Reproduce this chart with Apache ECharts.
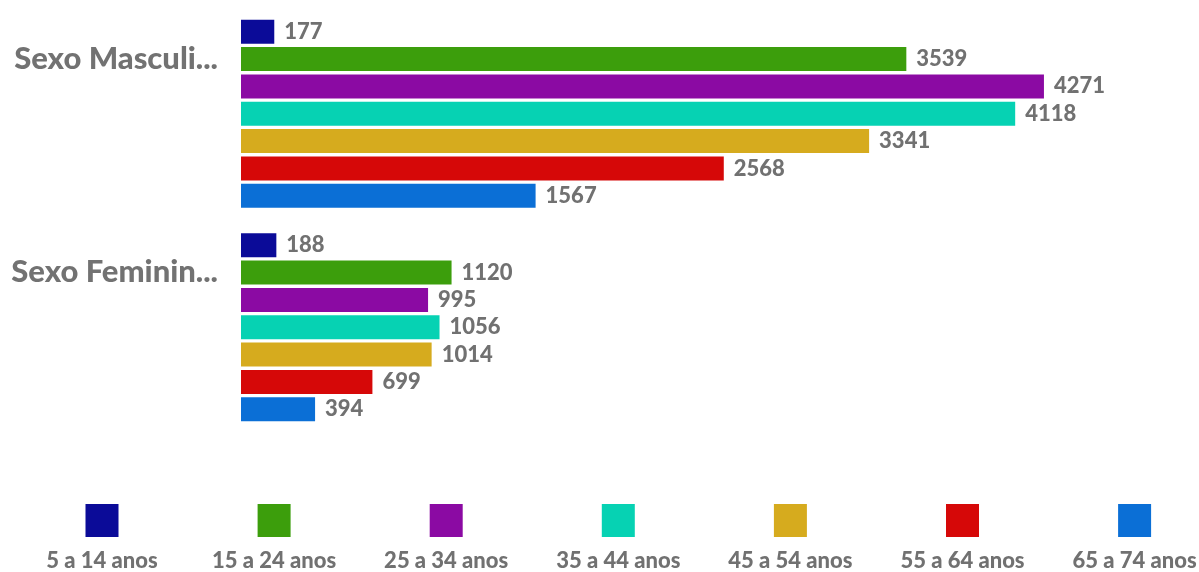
<!DOCTYPE html>
<html>
<head>
<meta charset="utf-8">
<script src="https://cdn.jsdelivr.net/npm/echarts@6/dist/echarts.min.js"></script>
<style>
  html, body { margin: 0; padding: 0; background: #ffffff; }
  #chart { width: 1199px; height: 572px; }
</style>
</head>
<body>
<div id="chart"></div>
<script>
const categories = ['Sexo Masculino', 'Sexo Feminino'];
const ageGroups = ['5 a 14 anos', '15 a 24 anos', '25 a 34 anos', '35 a 44 anos', '45 a 54 anos', '55 a 64 anos', '65 a 74 anos'];
const colors = ['#0b0b98', '#3c9e0c', '#8b0aa3', '#06d2b3', '#d6ab1e', '#d60808', '#0b6fd6'];
const age5to14 = [177, 188];
const age15to24 = [3539, 1120];
const age25to34 = [4271, 995];
const age35to44 = [4118, 1056];
const age45to54 = [3341, 1014];
const age55to64 = [2568, 699];
const age65to74 = [1567, 394];
const seriesValues = [age5to14, age15to24, age25to34, age35to44, age45to54, age55to64, age65to74];

const FONT = 'Lato';
const GRAY = '#717171';

const chart = echarts.init(document.getElementById('chart'), null, { renderer: 'canvas' });

const series = ageGroups.map((name, i) => ({
  name: name,
  type: 'bar',
  data: seriesValues[i],
  barWidth: 24,
  barGap: '14%',
  itemStyle: { color: colors[i] },
  label: {
    show: true,
    position: 'right',
    distance: 10,
    color: GRAY,
    fontFamily: FONT,
    fontWeight: 900,
    fontSize: 22
  },
  emphasis: { disabled: true }
}));

const legendStart = 102, legendStep = 172.1;
const legends = ageGroups.map((name, i) => ({
  data: [name],
  left: legendStart + legendStep * i - 16.5,
  top: 504,
  itemWidth: 33,
  itemHeight: 33,
  icon: 'rect',
  padding: 0,
  formatter: () => '',
  selectedMode: false
}));

const graphics = ageGroups.map((name, i) => ({
  type: 'text',
  x: legendStart + legendStep * i,
  y: 561,
  style: {
    text: name,
    fill: GRAY,
    font: '900 22px ' + FONT,
    textAlign: 'center',
    textVerticalAlign: 'middle'
  }
}));

chart.setOption({
  animation: false,
  grid: { left: 241, right: 18, top: 7, height: 427, containLabel: false },
  xAxis: {
    type: 'value',
    min: 0,
    max: 5000,
    show: false
  },
  yAxis: {
    type: 'category',
    data: categories,
    inverse: true,
    axisLine: { show: false },
    axisTick: { show: false },
    axisLabel: {
      margin: 23,
      verticalAlign: 'middle',
      formatter: v => '{t|' + (v.length > 12 ? v.slice(0, 12) + '...' : v) + '}\n{s| }',
      rich: {
        t: {
          color: '#727272',
          fontFamily: FONT,
          fontWeight: 900,
          fontSize: 31,
          lineHeight: 36
        },
        s: { fontSize: 2, lineHeight: 110 }
      }
    }
  },
  legend: legends,
  graphic: graphics,
  series: series
});
</script>
</body>
</html>
